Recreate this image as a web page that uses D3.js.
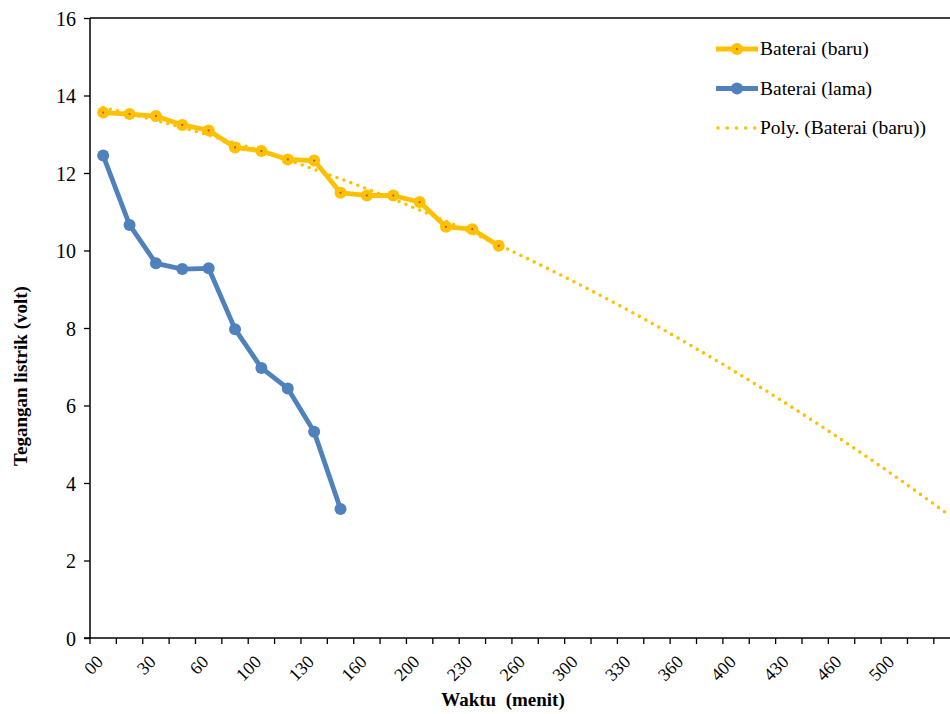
<!DOCTYPE html>
<html>
<head>
<meta charset="utf-8">
<title>Tegangan baterai</title>
<script src="https://d3js.org/d3.v7.min.js"></script>
<style>
  body { margin: 0; background: #fff; }
  svg { display: block; }
</style>
</head>
<body>
<svg id="chart" width="950" height="714"></svg>
<script>
// data (Waktu in 15 min steps)
const nCategories = 33;
const tickLabels = ["00", "30", "60", "100", "130", "160", "200", "230",
                    "260", "300", "330", "360", "400", "430", "460", "500"];
const baru = [13.56, 13.52, 13.47, 13.24, 13.10, 12.66, 12.57, 12.35,
              12.32, 11.49, 11.42, 11.42, 11.25, 10.61, 10.55, 10.12];
const lama = [12.45, 10.66, 9.67, 9.52, 9.54, 7.97, 6.97, 6.44, 5.32, 3.33];
const forecastForward = 17;
const yTicks = [0, 2, 4, 6, 8, 10, 12, 14, 16];

const YELLOW = "#FFC000", BLUE = "#4F81BD";
const FONT = "Liberation Serif";

const svg = d3.select("#chart");
const plotLeft = 90, plotTop = 18, plotBottom = 638;
const band = 26.37;

const x = d3.scaleBand()
  .domain(d3.range(nCategories))
  .range([plotLeft, plotLeft + band * nCategories]);
const y = d3.scaleLinear().domain([0, 16]).range([plotBottom, plotTop]);
const cx = i => x(i) + x.bandwidth() / 2;

// polynomial (order 2) trendline, least squares on 1..n
function polyFit(vals) {
  let S = [0, 0, 0, 0, 0], T = [0, 0, 0];
  vals.forEach((v, i) => {
    const t = i + 1;
    for (let k = 0; k < 5; k++) S[k] += Math.pow(t, k);
    for (let k = 0; k < 3; k++) T[k] += v * Math.pow(t, k);
  });
  const A = [[S[0], S[1], S[2], T[0]], [S[1], S[2], S[3], T[1]], [S[2], S[3], S[4], T[2]]];
  for (let c = 0; c < 3; c++) {
    for (let r = c + 1; r < 3; r++) {
      const f = A[r][c] / A[c][c];
      for (let k = c; k < 4; k++) A[r][k] -= f * A[c][k];
    }
  }
  const b = [0, 0, 0];
  for (let r = 2; r >= 0; r--) {
    let s = A[r][3];
    for (let k = r + 1; k < 3; k++) s -= A[r][k] * b[k];
    b[r] = s / A[r][r];
  }
  return t => b[0] + b[1] * t + b[2] * t * t;
}
const trend = polyFit(baru);
const trendPts = d3.range(1, baru.length + forecastForward + 0.001, 0.25)
  .map(t => [cx(0) + (t - 1) * band, y(trend(t))]);

// y axis
const yAxis = d3.axisLeft(y).tickValues(yTicks).tickSize(6).tickFormat(d3.format("d"));
const gy = svg.append("g").attr("transform", `translate(${plotLeft},0)`).call(yAxis);
gy.select(".domain").attr("stroke", "#000").attr("stroke-width", 1.5).attr("d", `M0,${plotTop}V${plotBottom}`);
gy.selectAll(".tick line").attr("stroke", "#000").attr("stroke-width", 1.3);
gy.selectAll(".tick text").attr("x", -14).attr("dy", "0.35em").style("font-size", "20px");

// top border
svg.append("line").attr("x1", plotLeft).attr("x2", 950).attr("y1", plotTop).attr("y2", plotTop)
  .attr("stroke", "#000").attr("stroke-width", 1.5);

// x axis
svg.append("line").attr("x1", plotLeft - 6).attr("x2", 950).attr("y1", plotBottom).attr("y2", plotBottom)
  .attr("stroke", "#000").attr("stroke-width", 1.5);
svg.append("g").selectAll("line")
  .data(d3.range(nCategories + 1))
  .join("line")
  .attr("x1", i => plotLeft + i * band).attr("x2", i => plotLeft + i * band)
  .attr("y1", plotBottom).attr("y2", plotBottom + 6)
  .attr("stroke", "#000").attr("stroke-width", 1.3);

svg.append("g").selectAll("text")
  .data(tickLabels)
  .join("text")
  .attr("text-anchor", "end")
  .attr("transform", (d, i) => `translate(${cx(i * 2) + 1},${plotBottom + 25}) rotate(-45)`)
  .style("font-size", "18px")
  .text(d => d);

// axis titles
svg.append("text")
  .attr("text-anchor", "middle")
  .attr("transform", "translate(27,376) rotate(-90)")
  .style("font-size", "19px").style("font-weight", "bold")
  .text("Tegangan listrik (volt)");
svg.append("text")
  .attr("text-anchor", "middle")
  .attr("x", 503).attr("y", 706)
  .style("font-size", "19px").style("font-weight", "bold").style("white-space", "pre")
  .text("Waktu  (menit)");

const line = d3.line().x((d, i) => cx(i)).y(d => y(d));

// trendline
svg.append("path")
  .attr("d", d3.line()(trendPts))
  .attr("fill", "none").attr("stroke", YELLOW).attr("stroke-width", 3.6)
  .attr("stroke-linecap", "round").attr("stroke-dasharray", "0 7.4");

// Baterai (baru)
svg.append("path").attr("d", line(baru))
  .attr("fill", "none").attr("stroke", YELLOW).attr("stroke-width", 4.8).attr("stroke-linejoin", "round");
svg.append("g").selectAll("circle").data(baru).join("circle")
  .attr("cx", (d, i) => cx(i)).attr("cy", d => y(d)).attr("r", 6).attr("fill", YELLOW);
svg.append("g").selectAll("circle").data(baru).join("circle")
  .attr("cx", (d, i) => cx(i)).attr("cy", d => y(d)).attr("r", 1.1).attr("fill", "#C0504D");

// Baterai (lama)
svg.append("path").attr("d", line(lama))
  .attr("fill", "none").attr("stroke", BLUE).attr("stroke-width", 4.8).attr("stroke-linejoin", "round");
svg.append("g").selectAll("circle").data(lama).join("circle")
  .attr("cx", (d, i) => cx(i)).attr("cy", d => y(d)).attr("r", 6).attr("fill", BLUE);

// legend
const legend = svg.append("g").attr("transform", "translate(716,49)");
const items = [
  { name: "Baterai (baru)", color: YELLOW, marker: true, dot: true },
  { name: "Baterai (lama)", color: BLUE, marker: true, dot: false },
  { name: "Poly. (Baterai (baru))", color: YELLOW, marker: false, dashed: true }
];
items.forEach((it, i) => {
  const g = legend.append("g").attr("transform", `translate(0,${i * 39.5})`);
  const ln = g.append("line").attr("x1", 0).attr("x2", 42).attr("y1", 0).attr("y2", 0)
    .attr("stroke", it.color).attr("stroke-width", it.dashed ? 3.6 : 4.8);
  if (it.dashed) ln.attr("stroke-linecap", "round").attr("stroke-dasharray", "0 9.2").attr("x1", 2).attr("x2", 40);
  if (it.marker) g.append("circle").attr("cx", 21).attr("r", 6).attr("fill", it.color);
  if (it.dot) g.append("circle").attr("cx", 21).attr("r", 1.1).attr("fill", "#C0504D");
  g.append("text").attr("x", 44).attr("y", 0).attr("dy", "0.33em").style("font-size", "19.5px").text(it.name);
});

// one serif face for every text
gy.attr("font-family", null).attr("font-size", null);
svg.selectAll("text").style("font-family", FONT).attr("fill", "#000");
</script>
</body>
</html>
